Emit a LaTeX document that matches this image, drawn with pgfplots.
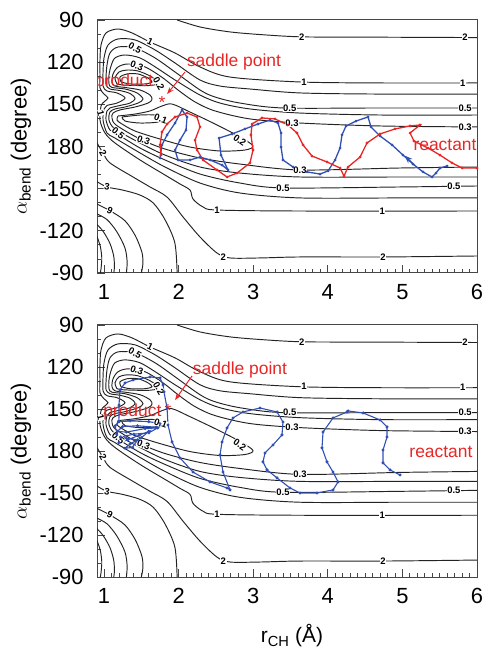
\documentclass[border=0pt]{standalone}
\usepackage{fontspec}
\setmainfont{Liberation Sans}
\usepackage{pgfplots}
\pgfplotsset{compat=1.18}
\usetikzlibrary{arrows.meta}
\definecolor{clc}{RGB}{35,35,35}
\definecolor{tred}{RGB}{232,38,38}
\definecolor{tblue}{RGB}{50,80,180}
\definecolor{axc}{RGB}{70,70,70}

\pgfplotsset{
 pesaxis/.style={
  scale only axis, width=380bp,
  xmin=0.906, xmax=6, ymin=90, ymax=270, y dir=reverse,
  xtick={1,2,3,4,5,6}, ytick={90,120,150,180,210,240,270},
  yticklabels={90,120,150,180,-150,-120,-90},
  minor x tick num=9, minor y tick num=2,
  tick align=inside, tick pos=left,
  major tick length=8bp, minor tick length=4bp,
  axis line style={axc, line width=1bp},
  every tick/.style={axc, line width=0.8bp},
  tick label style={font=\fontsize{22}{24}\selectfont},
  /pgf/number format/assume math mode=true,
  xticklabel style={yshift=-8bp},
  yticklabel style={xshift=-10bp},
  ylabel={$\alpha$\textsubscript{bend} (degree)},
  ylabel style={font=\fontsize{22}{24}\selectfont, at={(axis description cs:-0.2,0.5)}, anchor=center},
 },
 cline/.style={clc, line width=0.95bp, smooth, tension=0.5},
}
\tikzset{
 clab/.style={font=\fontsize{9.5}{10}\bfseries\selectfont, fill=white, inner sep=0.5bp, text=black},
 ann/.style={text=tred, font=\fontsize{17.5}{19}\selectfont, inner sep=0pt},
}
\newcommand{\cl}[4]{\node[clab,rotate=#4] at (axis cs:#1,#2) {#3};}

\newcommand{\pescontours}{%
\addplot[cline] coordinates {(1.98,90) (2.29,95) (2.69,98.5) (3.13,100.5) (3.65,102) (4.5,102.2) (6,102.5)};
\addplot[cline] coordinates {(6,134.8) (4.7,134.8) (3.627,134.1) (2.689,130.6) (2.287,123.4) (1.952,113.5) (1.617,105.7) (1.375,99.2) (1.188,96.4) (1.027,99.2) (0.96,107.8) (0.946,118.5) (0.946,129.1) (0.946,138.4) (1.0,142.7) (1.054,145.5) (1.0,148.3) (0.96,151.2) (0.946,161.2) (1.013,170.4) (1.147,177.5) (1.483,189.6) (1.818,200.3) (2.019,206.7) (2.153,211) (2.193,217.4) (2.327,223) (2.515,225.2) (3.627,225.9) (6,225.9)};
\addplot[cline] coordinates {(6,142.7) (4.7,142.7) (3.627,141.9) (2.957,139.1) (2.555,137.0) (2.287,132.7) (1.952,120.6) (1.684,111.3) (1.416,104.2) (1.188,103.5) (1.054,107.8) (1.0,117.0) (0.987,127.0) (0.987,137.0) (1.04,140.5) (1.174,141.9) (1.282,145.5) (1.174,149.1) (1.04,150.8) (1.0,153.3) (0.987,161.2) (1.04,170.4) (1.147,174.0) (1.483,184.6) (1.818,194.6) (2.287,206.0) (2.823,213.1) (3.627,216.6) (4.968,216.6) (6,216.6)};
\addplot[cline] coordinates {(6,152.6) (4.7,152.6) (3.399,152.6) (2.823,149.1) (2.488,144.8) (2.287,139.8) (1.952,127.0) (1.684,117.0) (1.416,109.9) (1.188,109.2) (1.08,113.5) (1.04,122.0) (1.027,130.6) (1.027,136.2) (1.08,139.1) (1.214,140.2) (1.349,142.3) (1.416,145.9) (1.349,149.1) (1.214,150.8) (1.08,152.6) (1.04,154.7) (1.027,161.2) (1.08,168.3) (1.174,171.1) (1.483,181.1) (1.818,189.6) (2.287,199.6) (2.823,206.0) (3.399,209.5) (4.968,208.8) (6,208.1)};
\addplot[cline] coordinates {(6,157.6) (4.7,157.6) (3.627,156.2) (2.957,153.3) (2.555,149.1) (2.287,143.4) (1.952,132.7) (1.71,124.2) (1.483,117.0) (1.282,114.9) (1.147,117.0) (1.094,122.7) (1.067,129.1) (1.067,135.5) (1.107,138.0) (1.282,139.1) (1.442,141.9) (1.523,146.2) (1.456,149.1) (1.282,151.9) (1.147,153.3) (1.08,155.5) (1.067,161.2) (1.147,167.5) (1.483,177.5) (1.818,186.1) (2.287,194.6) (2.823,198.9) (3.627,201.7) (4.968,201.7) (6,201.7)};
\addplot[cline] coordinates {(6,166.1) (4.7,165.4) (3.627,163.3) (2.957,160.4) (2.488,154.7) (2.22,148.3) (1.992,139.8) (1.791,131.3) (1.55,123.4) (1.322,121.3) (1.188,123.4) (1.121,128.4) (1.107,134.1) (1.147,137.0) (1.282,138.0) (1.483,139.8) (1.617,143.4) (1.643,146.6) (1.59,149.1) (1.416,151.9) (1.214,154.0) (1.121,156.2) (1.107,159.7) (1.161,164.7) (1.483,174.7) (1.818,181.8) (2.287,188.2) (2.823,192.5) (3.627,196.7) (4.968,195.3) (6,194.6)};
\addplot[cline] coordinates {(1.174,135.5) (1.147,131.3) (1.201,127.0) (1.308,125.6) (1.456,126.3) (1.617,129.8) (1.71,133.4) (1.724,135.5) (1.617,136.6) (1.416,136.6) (1.241,136.2) (1.174,135.5)};
\addplot[cline] coordinates {(1.228,134.1) (1.214,130.6) (1.308,128.4) (1.456,128.4) (1.59,131.3) (1.643,134.1) (1.55,135.5) (1.349,135.5) (1.228,134.1)};
\addplot[cline] coordinates {(1.188,158.3) (1.416,156.9) (1.617,154.7) (1.777,151.2) (1.912,149.8) (2.153,155.5) (2.488,164.0) (2.823,173.2) (2.997,179.6) (2.89,182.5) (2.555,183.2) (2.153,180.4) (1.751,174.7) (1.416,169.0) (1.241,164.0) (1.174,161.2) (1.188,158.3)};
\addplot[cline] coordinates {(1.241,159.0) (1.483,157.6) (1.684,157.6) (1.777,159.7) (1.724,162.6) (1.483,163.3) (1.282,161.9) (1.241,159.0)};
\addplot[cline] coordinates {(0.906,177.5) (0.987,184.6) (1.08,191.7) (1.389,201.7) (1.617,208.8) (1.845,216) (2.06,230.2) (2.287,244.4) (2.515,255.8) (2.689,259.3) (3.09,259.3) (3.627,258.6) (4.74,258.6) (6,257.9)};
\addplot[cline] coordinates {(0.906,205) (1.04,208.8) (1.25,211) (1.48,214.5) (1.66,220.2) (1.82,232.3) (1.95,248.7) (1.98,270)};
\addplot[cline] coordinates {(0.906,221) (1.08,225.7) (1.28,232.8) (1.42,243.5) (1.51,255.6) (1.52,264) (1.5,270)};
\addplot[cline] coordinates {(0.906,228) (1.04,232) (1.17,240.5) (1.28,252) (1.31,262) (1.3,270)};
\addplot[cline] coordinates {(0.906,235.5) (0.99,240.5) (1.08,249) (1.13,258) (1.14,266) (1.13,270)};
\addplot[cline] coordinates {(0.906,244) (0.95,251) (0.97,259) (0.96,267) (0.95,270)};
}

\newcommand{\peslabels}{%
\cl{3.65}{102.1}{2}{0}
\cl{5.84}{102.4}{2}{0}
\cl{3.68}{134.1}{1}{0}
\cl{5.81}{134.8}{1}{0}
\cl{3.49}{152.6}{0.5}{0}
\cl{5.84}{152.6}{0.5}{0}
\cl{3.52}{163.3}{0.3}{0}
\cl{5.84}{166.1}{0.3}{0}
\cl{2.82}{175.5}{0.2}{-35}
\cl{3.627}{196.7}{0.3}{0}
\cl{3.399}{209.5}{0.5}{0}
\cl{5.69}{208.1}{0.5}{0}
\cl{4.73}{225.9}{1}{0}
\cl{2.515}{225.2}{1}{0}
\cl{4.74}{258.6}{2}{0}
\cl{2.6}{258.5}{2}{0}
\cl{0.955}{156}{1}{-75}
\cl{0.987}{184.6}{2}{-60}
\cl{1.04}{208.8}{3}{-10}
\cl{1.08}{225.7}{9}{-25}
\cl{1.617}{105.7}{1}{-25}
\cl{1.416}{109.9}{0.5}{-30}
\cl{1.44}{122.4}{0.3}{-20}
\cl{1.735}{135.2}{0.2}{-60}
\cl{1.76}{160.3}{0.1}{-20}
\cl{1.19}{170.6}{0.5}{-40}
\cl{1.53}{175.6}{0.3}{-20}
}

\begin{document}
\begin{tikzpicture}[x=1bp,y=1bp]
\path[use as bounding box] (0,0) rectangle (484,654);

\begin{axis}[pesaxis, height=253bp, at={(97bp,381bp)}, anchor=south west]
\pescontours
\addplot[tblue, line width=1.3bp, mark=*, mark size=0.6bp] coordinates {(1.751,188.2) (1.777,178.9) (1.845,171.8) (1.952,163.3) (2.046,154.0) (2.113,159.0) (2.099,168.3) (2.019,175.4) (1.952,182.5) (1.992,189.6) (2.153,189.6) (2.287,187.5) (2.421,189.6) (2.582,193.2) (2.662,196.7) (2.568,186.1) (2.542,174.0) (2.716,171.1) (2.89,167.5) (3.064,164.0) (3.225,161.2) (3.332,163.3) (3.373,170.4) (3.373,180.4) (3.399,189.6) (3.534,194.6) (3.721,198.1) (3.895,199.6) (4.003,197.4) (4.097,189.6) (4.164,181.1) (4.19,171.8) (4.244,165.4) (4.378,161.9) (4.539,159.0) (4.579,166.1) (4.70,172.5) (4.861,178.9) (5.008,186.1) (5.142,192.5) (5.276,198.1) (5.397,201.7) (5.45,198.9) (5.504,195.3) (5.598,193.9)};
\addplot[tblue, line width=1.2bp, -{Stealth[length=8bp,width=6bp]}] coordinates {(5.16,193.2) (5.03,186.5)};
\addplot[tred, line width=1.3bp, mark=*, mark size=0.6bp] coordinates {(1.764,186.1) (1.751,178.9) (1.777,169.7) (1.845,164.0) (1.952,159.0) (2.113,156.2) (2.247,159.0) (2.287,166.1) (2.22,175.4) (2.247,182.5) (2.327,189.6) (2.515,196.7) (2.649,201.7) (2.783,198.9) (2.957,191.7) (2.997,182.5) (2.97,171.8) (2.984,164.0) (3.118,159.7) (3.292,160.4) (3.466,164.7) (3.587,170.4) (3.668,178.9) (3.788,186.8) (3.989,191.0) (4.164,195.3) (4.217,201.0) (4.271,194.6) (4.432,187.5) (4.525,177.5) (4.70,171.1) (4.901,167.5) (5.102,165.4) (5.236,164.7) (5.102,170.4) (5.155,176.1) (5.343,181.1) (5.504,186.1) (5.665,191.7) (5.799,195.3) (6.0,195.3)};
\peslabels
\node[ann] at (axis cs:2.743,119.9) {saddle point};
\node[ann] at (axis cs:1.27,134.1) {product};
\node[ann] at (axis cs:1.777,148.9) {*};
\node[ann] at (axis cs:5.571,178.9) {reactant};
\draw[tred, line width=1bp, -{Stealth[length=7bp,width=5bp]}] (axis cs:2.086,127) -- (axis cs:1.845,142.7);
\end{axis}

\begin{axis}[pesaxis, height=252bp, at={(97bp,77bp)}, anchor=south west,
  xlabel={r\textsubscript{CH} (Å)},
  xlabel style={font=\fontsize{21}{24}\selectfont, at={(axis description cs:0.513,-0.234)}, anchor=center}]
\pescontours
\addplot[tblue, line width=1.1bp, mark=*, mark size=0.9bp] coordinates {(1.2,159) (1.201,147.1) (1.214,136.4) (1.282,131.4) (1.389,129.3) (1.617,127.1) (1.751,127.8) (1.791,132.8) (1.804,137.8) (1.845,149.3) (1.858,161.4) (1.912,173.5) (2.019,185) (2.193,195) (2.421,202.1) (2.649,206.4) (2.689,207.8) (2.595,195) (2.555,182.8) (2.582,173.5) (2.649,163.5) (2.729,156.4) (2.863,152.1) (3.091,149.3) (3.319,152.1) (3.399,159.3) (3.386,168.5) (3.265,175.7) (3.158,181.4) (3.131,187.8) (3.185,193.5) (3.319,199.2) (3.493,206.4) (3.627,210) (3.855,210) (4.07,207.8) (4.137,202.1) (4.07,195) (3.989,187.8) (3.922,177.8) (3.936,166.4) (4.07,156.4) (4.257,152.1) (4.271,151.4) (4.472,152.8) (4.70,157.8) (4.794,162.8) (4.794,170) (4.74,179.3) (4.74,188.5) (4.834,193.5) (4.968,197.1)};
\addplot[tblue, line width=1.1bp, mark=*, mark size=0.9bp] coordinates {(1.2,159) (1.35,158.5) (1.6,159) (1.75,160.5) (1.7,163) (1.45,162) (1.25,162.5) (1.18,166) (1.3,166.5) (1.55,164) (1.72,163.5) (1.6,167) (1.4,168) (1.22,170) (1.2,174) (1.32,172) (1.48,168.5) (1.6,166) (1.5,170.5) (1.35,175) (1.28,178) (1.38,177.5) (1.45,172) (1.3,171) (1.17,168) (1.15,162) (1.2,159)};
\peslabels
\node[ann] at (axis cs:2.823,122.1) {saddle point};
\node[ann] at (axis cs:1.38,152.1) {product};
\node[ann] at (axis cs:1.858,150.8) {*};
\node[ann] at (axis cs:5.517,180.7) {reactant};
\draw[tred, line width=1bp, -{Stealth[length=7bp,width=5bp]}] (axis cs:2.18,126.4) -- (axis cs:1.952,143.6);
\end{axis}
\end{tikzpicture}
\end{document}
